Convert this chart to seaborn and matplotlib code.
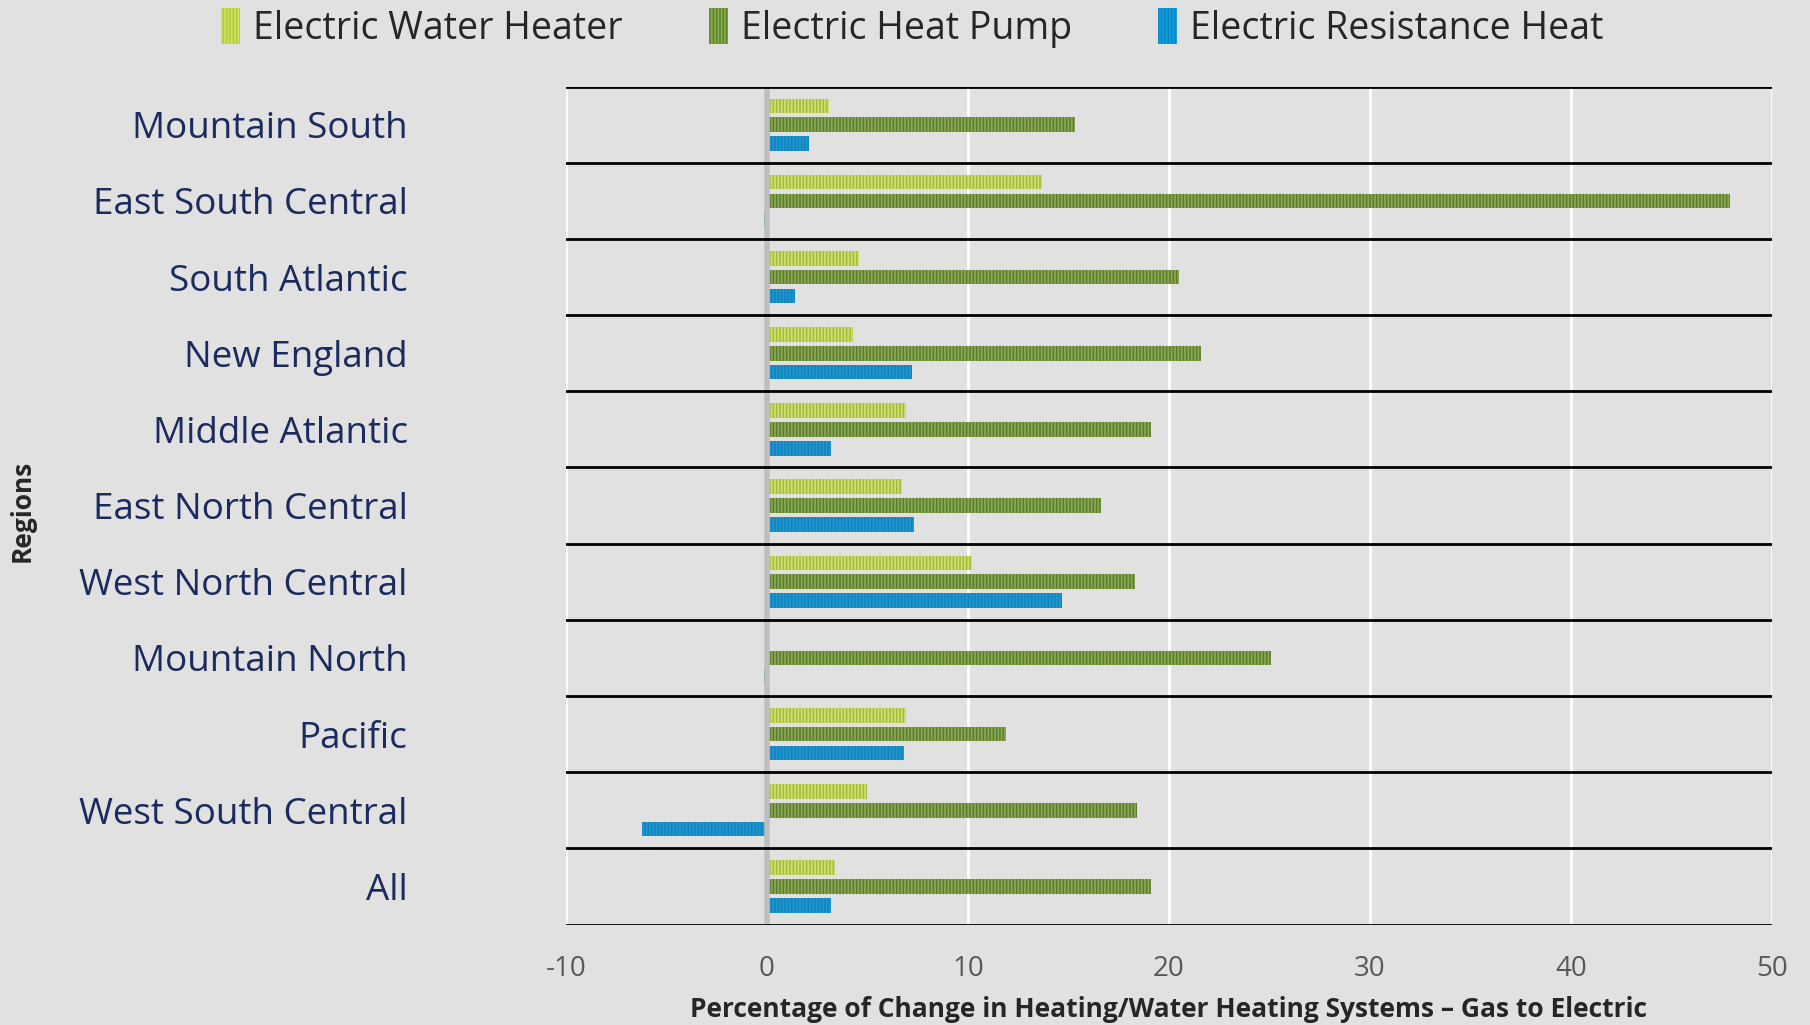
import pandas as pd
import numpy as np
import matplotlib.pyplot as plt
import seaborn as sns
from matplotlib.patches import Patch

regions = ['Mountain South', 'East South Central', 'South Atlantic', 'New England',
           'Middle Atlantic', 'East North Central', 'West North Central', 'Mountain North',
           'Pacific', 'West South Central', 'All']
systems = ['Electric Water Heater', 'Electric Heat Pump', 'Electric Resistance Heat']
water_heater = [3.1, 13.7, 4.6, 4.3, 6.9, 6.7, 10.2, 0.0, 6.9, 5.0, 3.4]
heat_pump = [15.3, 47.9, 20.5, 21.6, 19.1, 16.6, 18.3, 25.1, 11.9, 18.4, 19.1]
resistance = [2.1, -0.15, 1.4, 7.2, 3.2, 7.3, 14.7, -0.15, 6.8, -6.2, 3.2]
xticks = [-10, 0, 10, 20, 30, 40, 50]

face = ['#b2ce2e', '#5d8827', '#10a0e0']
stripe = ['#cfe06a', '#8aa84e', '#0a86c6']

df = pd.DataFrame({'Region': regions * 3,
                   'System': np.repeat(systems, len(regions)),
                   'Value': water_heater + heat_pump + resistance})

sns.set_style('white')
plt.rcParams['font.family'] = ['Open Sans', 'DejaVu Sans']
plt.rcParams['hatch.linewidth'] = 1.3
plt.rcParams['axes.unicode_minus'] = False

fig = plt.figure(figsize=(18.1, 10.25), dpi=100, facecolor='#e1e1e1')
ax = fig.add_axes([0.3127, 0.098, 0.6663, 0.8175])
ax.set_facecolor('#e1e1e1')

sns.barplot(data=df, x='Value', y='Region', hue='System', hue_order=systems,
            order=regions, orient='h', palette=face, width=0.74, gap=0.22,
            legend=False, ax=ax)

for i, cont in enumerate(ax.containers):
    for p in cont:
        p.set_hatch('|||||')
        p.set_edgecolor(stripe[i])
        p.set_linewidth(0)

ax.set_xlim(-10, 50)
ax.set_ylim(len(regions) - 0.5, -0.5)
ax.set_xticks(xticks)
for x in xticks:
    ax.axvline(x, color='white', lw=2, zorder=0)
ax.axvline(0, color='#bfbfbf', lw=4, zorder=3)
for y in np.arange(-0.5, len(regions), 1):
    ax.axhline(y, color='black', lw=2, zorder=4)
sns.despine(ax=ax, left=True, bottom=True, top=True, right=True)

ax.tick_params(axis='y', length=0, pad=114, labelsize=26.5, labelcolor='#1c2b5e')
ax.tick_params(axis='x', length=0, pad=22, labelsize=20, labelcolor='#595959')

ax.set_xlabel('Percentage of Change in Heating/Water Heating Systems \u2013 Gas to Electric',
              fontsize=19, fontweight='bold', labelpad=9)
ax.set_ylabel('')
fig.text(0.012, 0.502, 'Regions', rotation=90, fontsize=19, fontweight='bold',
         ha='center', va='center')

handles = [Patch(facecolor=face[i], edgecolor=stripe[i], hatch='|||||', lw=0)
           for i in range(3)]
fig.legend(handles, systems, loc='upper center', bbox_to_anchor=(0.504, 1.025), ncol=3,
           frameon=False, fontsize=27, handlelength=0.5, handleheight=1.1,
           handletextpad=0.35, columnspacing=2.3)

plt.savefig('out.png', dpi=100, facecolor=fig.get_facecolor())
